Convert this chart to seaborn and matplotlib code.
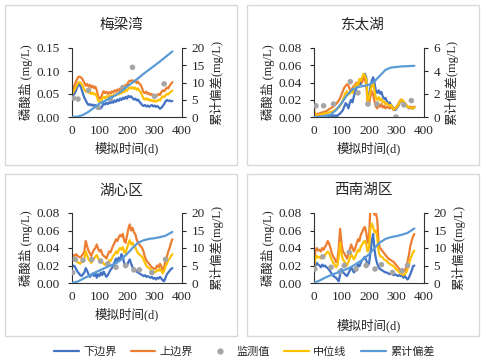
import matplotlib
matplotlib.use("Agg")
import matplotlib.pyplot as plt
from matplotlib.lines import Line2D
from matplotlib.patches import Rectangle
import seaborn as sns

sns.set_style("white")
plt.rcParams['font.family'] = ['Liberation Serif', 'Noto Sans CJK SC']

# simulation days (every 5 days) and days for the cumulative deviation curve
days = list(range(0, 366, 5))
cum_days = [0, 20, 40, 60, 80, 100, 120, 140, 160, 180, 200, 220, 240, 260, 280, 300, 320, 340, 365]

# ---- 梅梁湾 ----
mly_lower = [0.045, 0.048, 0.052, 0.058, 0.066, 0.072, 0.068, 0.060, 0.050, 0.042,
             0.036, 0.030, 0.026, 0.028, 0.025, 0.027, 0.024, 0.026, 0.022, 0.020,
             0.018, 0.019, 0.024, 0.030, 0.027, 0.031, 0.028, 0.032, 0.030, 0.034,
             0.031, 0.036, 0.033, 0.038, 0.035, 0.040, 0.037, 0.042, 0.039, 0.044,
             0.040, 0.046, 0.043, 0.045, 0.041, 0.038, 0.040, 0.036, 0.038, 0.033,
             0.030, 0.026, 0.024, 0.026, 0.023, 0.025, 0.022, 0.024, 0.026, 0.023,
             0.025, 0.022, 0.024, 0.021, 0.018, 0.020, 0.024, 0.028, 0.034, 0.037,
             0.035, 0.036, 0.034, 0.035]
mly_upper = [0.055, 0.062, 0.070, 0.078, 0.084, 0.088, 0.087, 0.085, 0.080, 0.074,
             0.068, 0.072, 0.066, 0.070, 0.064, 0.068, 0.063, 0.066, 0.058, 0.045,
             0.040, 0.042, 0.050, 0.056, 0.052, 0.055, 0.050, 0.054, 0.051, 0.056,
             0.053, 0.058, 0.055, 0.060, 0.057, 0.062, 0.060, 0.066, 0.064, 0.070,
             0.068, 0.076, 0.079, 0.078, 0.080, 0.076, 0.079, 0.074, 0.077, 0.072,
             0.070, 0.062, 0.054, 0.052, 0.055, 0.050, 0.052, 0.048, 0.050, 0.046,
             0.048, 0.044, 0.047, 0.050, 0.048, 0.054, 0.058, 0.056, 0.060, 0.064,
             0.062, 0.068, 0.072, 0.076]
mly_median = [0.050, 0.055, 0.060, 0.066, 0.072, 0.076, 0.075, 0.072, 0.066, 0.060,
              0.055, 0.058, 0.052, 0.055, 0.050, 0.053, 0.049, 0.051, 0.045, 0.036,
              0.032, 0.034, 0.040, 0.044, 0.041, 0.045, 0.042, 0.046, 0.043, 0.047,
              0.045, 0.049, 0.047, 0.051, 0.049, 0.053, 0.051, 0.056, 0.054, 0.059,
              0.057, 0.062, 0.064, 0.062, 0.065, 0.061, 0.064, 0.059, 0.062, 0.057,
              0.054, 0.047, 0.040, 0.038, 0.041, 0.037, 0.039, 0.035, 0.037, 0.034,
              0.036, 0.033, 0.035, 0.038, 0.036, 0.041, 0.045, 0.043, 0.047, 0.050,
              0.049, 0.053, 0.055, 0.057]
mly_cum = [0, 0.1, 0.6, 1.5, 2.7, 3.9, 4.7, 5.5, 6.4, 7.5, 8.8, 10.0, 11.2, 12.5, 13.7, 14.9, 16.1, 17.4, 19.0]
mly_obs_day = [5, 22, 60, 95, 140, 185, 220, 300, 335]
mly_obs = [0.041, 0.039, 0.058, 0.021, 0.040, 0.064, 0.108, 0.045, 0.072]

# ---- 东太湖 ----
dth_lower = [0.002, 0.001, 0.001, 0.000, 0.001, 0.001, 0.000, 0.001, 0.002, 0.001,
             0.002, 0.001, 0.002, 0.001, 0.002, 0.001, 0.002, 0.001, 0.003, 0.004,
             0.006, 0.008, 0.012, 0.016, 0.014, 0.010, 0.016, 0.020, 0.017, 0.024,
             0.030, 0.034, 0.036, 0.040, 0.038, 0.044, 0.048, 0.050, 0.046, 0.024,
             0.020, 0.034, 0.042, 0.046, 0.040, 0.030, 0.028, 0.031, 0.027, 0.029,
             0.024, 0.021, 0.022, 0.018, 0.016, 0.017, 0.014, 0.012, 0.010, 0.008,
             0.010, 0.012, 0.015, 0.018, 0.019, 0.017, 0.015, 0.013, 0.012, 0.010,
             0.011, 0.010, 0.010, 0.011]
dth_upper = [0.004, 0.003, 0.003, 0.004, 0.004, 0.005, 0.005, 0.006, 0.006, 0.007,
             0.008, 0.009, 0.010, 0.011, 0.012, 0.014, 0.015, 0.017, 0.019, 0.022,
             0.026, 0.030, 0.034, 0.036, 0.038, 0.037, 0.032, 0.030, 0.034, 0.036,
             0.038, 0.040, 0.036, 0.042, 0.044, 0.040, 0.046, 0.044, 0.038, 0.016,
             0.014, 0.024, 0.030, 0.026, 0.018, 0.012, 0.010, 0.014, 0.012, 0.015,
             0.011, 0.013, 0.010, 0.012, 0.011, 0.010, 0.012, 0.010, 0.008, 0.010,
             0.012, 0.014, 0.017, 0.020, 0.020, 0.018, 0.016, 0.014, 0.012, 0.011,
             0.012, 0.011, 0.011, 0.012]
dth_median = [0.009, 0.003, 0.002, 0.002, 0.003, 0.003, 0.003, 0.004, 0.004, 0.004,
              0.005, 0.005, 0.006, 0.006, 0.007, 0.008, 0.009, 0.010, 0.011, 0.013,
              0.016, 0.019, 0.024, 0.028, 0.030, 0.026, 0.027, 0.030, 0.028, 0.034,
              0.036, 0.039, 0.037, 0.044, 0.042, 0.046, 0.050, 0.048, 0.044, 0.018,
              0.022, 0.030, 0.036, 0.040, 0.030, 0.022, 0.020, 0.023, 0.019, 0.021,
              0.017, 0.018, 0.015, 0.016, 0.014, 0.013, 0.014, 0.011, 0.009, 0.010,
              0.011, 0.013, 0.016, 0.019, 0.020, 0.018, 0.016, 0.014, 0.012, 0.011,
              0.011, 0.010, 0.010, 0.011]
dth_cum = [0, 0.02, 0.08, 0.2, 0.6, 1.2, 1.9, 2.4, 2.6, 2.7, 2.8, 3.1, 3.6, 4.1, 4.3, 4.35, 4.4, 4.42, 4.45]
dth_obs_day = [7, 35, 71, 132, 160, 196, 229, 298, 327, 354]
dth_obs = [0.013, 0.013, 0.015, 0.041, 0.028, 0.015, 0.015, 0.000, 0.014, 0.019]

# ---- 湖心区 ----
hxq_lower = [0.018, 0.020, 0.019, 0.016, 0.013, 0.011, 0.009, 0.008, 0.010, 0.012,
             0.017, 0.014, 0.010, 0.007, 0.009, 0.011, 0.008, 0.012, 0.006, 0.010,
             0.008, 0.012, 0.009, 0.013, 0.010, 0.007, 0.009, 0.012, 0.015, 0.017,
             0.020, 0.024, 0.028, 0.025, 0.029, 0.026, 0.033, 0.030, 0.022, 0.018,
             0.020, 0.024, 0.027, 0.022, 0.018, 0.016, 0.015, 0.013, 0.012, 0.011,
             0.010, 0.009, 0.008, 0.009, 0.007, 0.008, 0.007, 0.006, 0.007, 0.005,
             0.006, 0.004, 0.006, 0.005, 0.007, 0.005, 0.003, 0.002, 0.006, 0.010,
             0.012, 0.014, 0.016, 0.017]
hxq_upper = [0.030, 0.032, 0.031, 0.033, 0.031, 0.030, 0.029, 0.031, 0.033, 0.036,
             0.048, 0.042, 0.037, 0.034, 0.031, 0.035, 0.038, 0.040, 0.044, 0.039,
             0.036, 0.038, 0.033, 0.031, 0.030, 0.028, 0.032, 0.036, 0.035, 0.039,
             0.043, 0.046, 0.050, 0.048, 0.052, 0.055, 0.053, 0.056, 0.048, 0.046,
             0.054, 0.062, 0.067, 0.060, 0.063, 0.058, 0.056, 0.050, 0.046, 0.044,
             0.042, 0.040, 0.036, 0.030, 0.026, 0.024, 0.022, 0.020, 0.018, 0.017,
             0.016, 0.017, 0.020, 0.018, 0.022, 0.019, 0.014, 0.018, 0.026, 0.030,
             0.036, 0.040, 0.046, 0.050]
hxq_median = [0.025, 0.027, 0.026, 0.025, 0.024, 0.023, 0.022, 0.024, 0.026, 0.028,
              0.036, 0.032, 0.027, 0.025, 0.023, 0.026, 0.028, 0.030, 0.032, 0.028,
              0.026, 0.027, 0.024, 0.022, 0.021, 0.020, 0.023, 0.026, 0.025, 0.028,
              0.031, 0.033, 0.036, 0.034, 0.038, 0.040, 0.038, 0.041, 0.035, 0.034,
              0.040, 0.045, 0.049, 0.044, 0.046, 0.042, 0.041, 0.037, 0.034, 0.033,
              0.031, 0.030, 0.027, 0.023, 0.020, 0.018, 0.017, 0.016, 0.014, 0.013,
              0.012, 0.013, 0.015, 0.014, 0.016, 0.014, 0.011, 0.014, 0.019, 0.022,
              0.026, 0.028, 0.031, 0.033]
hxq_cum = [0, 0.4, 1.2, 2.0, 2.8, 3.6, 4.3, 5.0, 5.6, 6.8, 8.3, 10.0, 11.5, 12.2, 12.6, 12.8, 13.1, 13.5, 14.6]
hxq_obs_day = [3, 12, 40, 72, 104, 130, 160, 195, 225, 245, 290, 340]
hxq_obs = [0.012, 0.027, 0.026, 0.027, 0.025, 0.022, 0.018, 0.020, 0.015, 0.015, 0.012, 0.027]

# ---- 西南湖区 ----
xnh_lower = [0.014, 0.020, 0.023, 0.021, 0.020, 0.018, 0.021, 0.019, 0.020, 0.018,
             0.017, 0.015, 0.013, 0.010, 0.008, 0.007, 0.006, 0.004, 0.002, 0.010,
             0.016, 0.012, 0.011, 0.009, 0.008, 0.011, 0.014, 0.018, 0.015, 0.012,
             0.014, 0.018, 0.021, 0.019, 0.023, 0.026, 0.028, 0.030, 0.026, 0.020,
             0.022, 0.034, 0.048, 0.056, 0.038, 0.028, 0.022, 0.018, 0.016, 0.015,
             0.014, 0.013, 0.012, 0.012, 0.011, 0.010, 0.011, 0.010, 0.009, 0.010,
             0.009, 0.008, 0.009, 0.008, 0.009, 0.006, 0.008, 0.006, 0.004, 0.006,
             0.010, 0.014, 0.019, 0.020]
xnh_upper = [0.022, 0.036, 0.040, 0.037, 0.038, 0.036, 0.040, 0.038, 0.041, 0.044,
             0.048, 0.045, 0.040, 0.034, 0.030, 0.028, 0.024, 0.026, 0.040, 0.062,
             0.045, 0.036, 0.034, 0.031, 0.028, 0.033, 0.038, 0.044, 0.040, 0.036,
             0.040, 0.045, 0.050, 0.048, 0.055, 0.058, 0.062, 0.064, 0.058, 0.046,
             0.052, 0.085, 0.090, 0.085, 0.078, 0.080, 0.072, 0.046, 0.040, 0.038,
             0.036, 0.034, 0.032, 0.030, 0.028, 0.027, 0.026, 0.025, 0.024, 0.022,
             0.020, 0.018, 0.016, 0.015, 0.014, 0.013, 0.014, 0.018, 0.024, 0.032,
             0.042, 0.048, 0.053, 0.056]
xnh_median = [0.018, 0.028, 0.031, 0.029, 0.030, 0.028, 0.031, 0.029, 0.032, 0.034,
              0.036, 0.034, 0.030, 0.026, 0.023, 0.021, 0.018, 0.020, 0.030, 0.046,
              0.034, 0.027, 0.025, 0.022, 0.020, 0.024, 0.028, 0.033, 0.030, 0.027,
              0.030, 0.034, 0.038, 0.036, 0.041, 0.044, 0.047, 0.048, 0.044, 0.036,
              0.040, 0.062, 0.068, 0.064, 0.058, 0.060, 0.052, 0.036, 0.031, 0.030,
              0.029, 0.027, 0.026, 0.025, 0.023, 0.022, 0.021, 0.020, 0.019, 0.017,
              0.015, 0.014, 0.012, 0.011, 0.010, 0.009, 0.010, 0.012, 0.016, 0.021,
              0.027, 0.031, 0.035, 0.037]
xnh_cum = [0, 0.7, 1.5, 2.2, 2.8, 3.4, 4.0, 4.8, 5.8, 6.8, 8.2, 10.0, 11.6, 12.6, 13.1, 13.4, 13.8, 14.3, 15.6]
xnh_obs_day = [3, 32, 62, 95, 110, 128, 153, 190, 222, 245, 285, 320, 340]
xnh_obs = [0.016, 0.030, 0.018, 0.013, 0.020, 0.035, 0.016, 0.020, 0.016, 0.021, 0.012, 0.014, 0.020]

titles = ['梅梁湾', '东太湖', '湖心区', '西南湖区']
c_lower, c_upper, c_obs, c_med, c_cum = '#4472C4', '#ED7D31', '#A5A5A5', '#FFC000', '#5B9BD5'

W, H = 484, 361
fig = plt.figure(figsize=(W / 100, H / 100), dpi=100)


def frac(l, r, t, b):
    return [l / W, 1 - b / H, (r - l) / W, (b - t) / H]


panels = [
    (mly_lower, mly_upper, mly_median, mly_cum, mly_obs_day, mly_obs, 0.15, 0.05, 20, 5),
    (dth_lower, dth_upper, dth_median, dth_cum, dth_obs_day, dth_obs, 0.08, 0.02, 6, 2),
    (hxq_lower, hxq_upper, hxq_median, hxq_cum, hxq_obs_day, hxq_obs, 0.08, 0.02, 20, 5),
    (xnh_lower, xnh_upper, xnh_median, xnh_cum, xnh_obs_day, xnh_obs, 0.08, 0.02, 20, 5),
]
boxes = [(5, 237, 5, 165), (247, 479, 5, 165), (5, 237, 174, 336), (247, 479, 174, 336)]
axpos = [(72, 182, 48, 117), (314, 424, 48, 117), (72, 182, 213, 283), (314, 424, 213, 283)]
title_pos = [(121, 25), (363, 25), (121, 191), (363, 190)]
xlab_pad = [3, 3, 3, 11]

for i, (lo, up, med, cum, od, ov, ymax, ystep, rmax, rstep) in enumerate(panels):
    bl, br, bt, bb = boxes[i]
    fig.patches.append(Rectangle((bl / W, 1 - bb / H), (br - bl) / W, (bb - bt) / H,
                                 transform=fig.transFigure, fill=False,
                                 edgecolor='#D9D9D9', lw=1))
    ax = fig.add_axes(frac(*axpos[i]))
    sns.lineplot(x=days, y=lo, ax=ax, color=c_lower, lw=1.6, legend=False)
    sns.lineplot(x=days, y=up, ax=ax, color=c_upper, lw=1.6, legend=False)
    sns.scatterplot(x=od, y=ov, ax=ax, color=c_obs, s=16, edgecolor='none', zorder=3)
    sns.lineplot(x=days, y=med, ax=ax, color=c_med, lw=1.6, legend=False)
    ax.set_xlim(0, 400)
    ax.set_ylim(0, ymax)
    ax.set_xticks(range(0, 401, 100))
    n = int(round(ymax / ystep))
    ax.set_yticks([k * ystep for k in range(n + 1)])
    ax.set_yticklabels(['%.2f' % (k * ystep) for k in range(n + 1)])
    ax.set_ylabel('磷酸盐 (mg/L)', fontsize=9, labelpad=2)
    ax.set_xlabel('模拟时间(d)', fontsize=9, labelpad=xlab_pad[i])
    ax.tick_params(axis='y', direction='out', length=3, width=0.8, labelsize=9.5, pad=6)
    ax.tick_params(axis='x', direction='out', length=3, width=0.8, labelsize=9.5, pad=3)
    for s in ['left', 'bottom']:
        ax.spines[s].set_color('#333333')
        ax.spines[s].set_linewidth(0.8)
    ax.spines['top'].set_visible(False)
    ax.spines['right'].set_visible(False)

    ax2 = ax.twinx()
    sns.lineplot(x=cum_days, y=cum, ax=ax2, color=c_cum, lw=1.6, legend=False)
    ax2.set_ylim(0, rmax)
    ax2.set_yticks(range(0, rmax + 1, rstep))
    ax2.set_ylabel('累计偏差(mg/L)', fontsize=9, rotation=90, labelpad=3)
    ax2.tick_params(axis='y', direction='out', length=3, width=0.8, labelsize=9.5, pad=4)
    ax2.spines['right'].set_color('#333333')
    ax2.spines['right'].set_linewidth(0.8)
    for s in ['top', 'left', 'bottom']:
        ax2.spines[s].set_visible(False)

    tx, ty = title_pos[i]
    fig.text(tx / W, 1 - ty / H, titles[i], ha='center', va='center', fontsize=10.5)

handles = [
    Line2D([], [], color=c_lower, lw=1.6),
    Line2D([], [], color=c_upper, lw=1.6),
    Line2D([], [], color=c_obs, marker='o', ls='', markersize=4.5, markeredgecolor='none'),
    Line2D([], [], color=c_med, lw=1.6),
    Line2D([], [], color=c_cum, lw=1.6),
]
fig.legend(handles, ['下边界', '上边界', '监测值', '中位线', '累计偏差'], loc='center',
           bbox_to_anchor=(0.505, 1 - 352 / H), ncol=5, frameon=False, fontsize=8,
           handlelength=2.2, handletextpad=0.4, columnspacing=1.3)

fig.savefig('out.png', dpi=100)
